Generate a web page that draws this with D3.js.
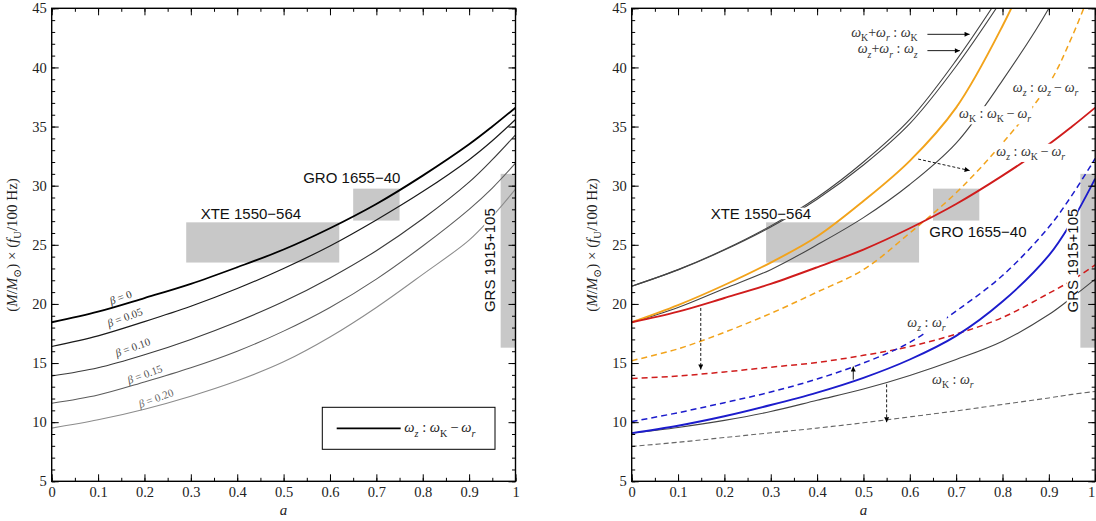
<!DOCTYPE html>
<html>
<head>
<meta charset="utf-8">
<script src="https://cdn.jsdelivr.net/npm/d3@7"></script>
<style>
  body { margin: 0; background: #fff; }
  svg { display: block; }
  text { white-space: pre; }
</style>
</head>
<body>
<svg id="chart" width="1096" height="521"></svg>
<script>
// spin grid shared by all curves (extra point near a = 1 where curves steepen)
const spinA = [0, 0.1, 0.2, 0.3, 0.4, 0.5, 0.6, 0.7, 0.8, 0.9, 0.95, 1.0];

// left panel: omega_z : omega_K - omega_r for several beta
const betaNames = ["β = 0", "β = 0.05", "β = 0.10", "β = 0.15", "β = 0.20"];
const beta000 = [18.45, 19.35, 20.5, 21.7, 23.1, 24.6, 26.4, 28.45, 30.85, 33.5, 35.0, 36.6];
const beta005 = [16.4, 17.3, 18.5, 19.8, 21.3, 23.0, 24.9, 27.1, 29.5, 32.2, 33.8, 35.6];
const beta010 = [13.9, 14.6, 15.7, 17.0, 18.5, 20.2, 22.2, 24.5, 27.2, 30.3, 32.2, 34.3];
const beta015 = [11.6, 12.3, 13.4, 14.6, 16.0, 17.7, 19.7, 22.1, 24.9, 28.0, 29.8, 31.9];
const beta020 = [9.5, 10.2, 11.1, 12.2, 13.5, 15.1, 17.2, 19.7, 22.5, 25.4, 27.4, 29.7];

// right panel resonances (solid = beta 0, dashed = shifted)
const kPlusRonK = [21.5, 22.9, 24.6, 26.6, 29.0, 32.0, 35.6, 40.6, 46.4];
const zPlusRonZ = [21.5, 22.88, 24.55, 26.5, 28.85, 31.75, 35.25, 40.1, 45.8];
const zOnZminusR = [18.45, 19.9, 21.6, 23.5, 25.7, 28.7, 32.1, 36.6, 43.5, 52.0];
const kOnKminusR = [18.45, 19.7, 21.3, 22.9, 25.0, 27.3, 30.1, 33.6, 38.9, 45.0, 49.0];
const zOnKminusR = beta000;
const zOnZminusRShift = [15.2, 16.2, 17.6, 19.2, 21.0, 22.9, 26.0, 29.4, 33.6, 38.6, 42.6, 47.5];
const zOnKminusRShift = [13.7, 13.9, 14.25, 14.65, 15.05, 15.65, 16.4, 17.45, 18.85, 20.9, 22.0, 23.3];
const zOnRShift = [10.05, 10.8, 11.65, 12.55, 13.65, 15.0, 16.75, 19.4, 22.4, 26.5, 29.2, 32.3];
const zOnR = [9.07, 9.7, 10.5, 11.45, 12.5, 13.75, 15.3, 17.3, 20.2, 24.1, 27.0, 30.6];
const kOnR = [9.07, 9.55, 10.15, 10.9, 11.85, 12.8, 13.95, 15.3, 16.85, 19.1, 20.55, 22.1];
const kOnRShift = [7.95, 8.3, 8.7, 9.1, 9.5, 9.95, 10.45, 10.95, 11.5, 12.05, 12.35, 12.6];

// observed sources: spin range and mass x frequency range
const sourceNames = ["XTE 1550−564", "GRO 1655−40", "GRS 1915+105"];
const sourceSpinLo = [0.29, 0.65, 0.968];
const sourceSpinHi = [0.62, 0.75, 1.0];
const sourceMassLo = [23.5, 27.05, 16.3];
const sourceMassHi = [26.9, 29.75, 31.0];

// tick values
const xMajor = d3.range(0, 11).map((i) => i / 10);
const xMinor = d3.range(0, 21).map((i) => i / 20);
const yMajor = d3.range(5, 46, 5);
const yMinor = d3.range(5, 46, 1);

const svg = d3.select("#chart");
const y = d3.scaleLinear().domain([5, 45]).range([481.3, 8.3]);
const xLeft = d3.scaleLinear().domain([0, 1]).range([51.7, 515.5]);
const xRight = d3.scaleLinear().domain([0, 1]).range([631.7, 1095.2]);

const serif = "'Liberation Serif', 'DejaVu Serif', serif";
const sans = "'Liberation Sans', Arial, sans-serif";

const defs = svg.append("defs");
defs
  .append("marker")
  .attr("id", "head")
  .attr("viewBox", "0 0 10 10")
  .attr("refX", 10)
  .attr("refY", 5)
  .attr("markerUnits", "userSpaceOnUse")
  .attr("markerWidth", 7)
  .attr("markerHeight", 5)
  .attr("orient", "auto")
  .append("path")
  .attr("d", "M0,0L10,5L0,10Z")
  .attr("fill", "#000");

function pairs(vals) {
  return vals.map((v, i) => [spinA[i], v]);
}

// small math typesetter: "_X" = subscript, #...# = upright text
function mathText(text, str, size) {
  const runs = [];
  let roman = false;
  let i = 0;
  while (i < str.length) {
    let ch = str[i];
    if (ch === "#") { roman = !roman; i++; continue; }
    let sub = false;
    if (ch === "_") { sub = true; ch = str[i + 1]; i += 2; } else i++;
    const italic = !roman && /[a-zωβM]/.test(ch);
    const last = runs[runs.length - 1];
    if (last && last.sub === sub && last.italic === italic) last.t += ch;
    else runs.push({ t: ch, sub: sub, italic: italic });
  }
  const shift = size * 0.3;
  let prevSub = false;
  runs.forEach((r) => {
    const ts = text.append("tspan").text(r.t)
      .attr("font-style", r.italic ? "italic" : "normal")
      .attr("font-size", r.sub ? size * 0.7 : size);
    if (r.sub && !prevSub) ts.attr("dy", shift);
    if (!r.sub && prevSub) ts.attr("dy", -shift);
    prevSub = r.sub;
  });
  text.attr("font-size", size);
}

function label(g, x, spec) {
  const lg = g.append("g")
    .attr("transform", `translate(${x(spec.a)},${y(spec.v)}) rotate(${spec.rot || 0})`);
  const t = lg.append("text")
    .attr("text-anchor", spec.anchor || "middle")
    .attr("fill", spec.color || "#111")
    .attr("font-family", spec.font || serif)
    .attr("y", spec.dy || 0);
  if (spec.math) mathText(t, spec.text, spec.size);
  else t.attr("font-size", spec.size).text(spec.text);
  if (spec.bg) {
    const b = t.node().getBBox();
    let y0 = b.y, h = b.height;
    if (!spec.math) { y0 = (spec.dy || 0) - spec.size * 0.74; h = spec.size * 0.76; }
    lg.insert("rect", "text")
      .attr("x", b.x - 1).attr("width", b.width + 2)
      .attr("y", y0).attr("height", h)
      .attr("fill", "#fff");
  }
}

function drawPanel(x, id, series, labels, arrows) {
  const g = svg.append("g");
  const [x0, x1] = x.range();
  const [yb, yt] = y.range();

  defs.append("clipPath").attr("id", id)
    .append("rect").attr("x", x0).attr("y", yt).attr("width", x1 - x0).attr("height", yb - yt);

  // source boxes
  g.append("g").selectAll("rect")
    .data(sourceNames.map((n, i) => i))
    .join("rect")
    .attr("x", (i) => x(sourceSpinLo[i]))
    .attr("width", (i) => x(sourceSpinHi[i]) - x(sourceSpinLo[i]))
    .attr("y", (i) => y(sourceMassHi[i]))
    .attr("height", (i) => y(sourceMassLo[i]) - y(sourceMassHi[i]))
    .attr("fill", "#c8c8c8");

  const line = d3.line()
    .x((d) => x(d[0]))
    .y((d) => y(d[1]))
    .curve(d3.curveCatmullRom.alpha(0.5));

  g.append("g").attr("clip-path", `url(#${id})`)
    .selectAll("path")
    .data(series)
    .join("path")
    .attr("d", (s) => line(pairs(s.vals)))
    .attr("fill", "none")
    .attr("stroke", (s) => s.color)
    .attr("stroke-width", (s) => s.width)
    .attr("stroke-dasharray", (s) => s.dash || null);

  labels.forEach((l) => label(g, x, l));

  g.append("g").selectAll("line")
    .data(arrows)
    .join("line")
    .attr("x1", (d) => x(d.a0)).attr("y1", (d) => y(d.v0))
    .attr("x2", (d) => x(d.a1)).attr("y2", (d) => y(d.v1))
    .attr("stroke", "#000")
    .attr("stroke-width", 0.9)
    .attr("stroke-dasharray", (d) => (d.dash ? "3,2" : null))
    .attr("marker-end", "url(#head)");

  // axes with inward ticks on all four sides
  const fmt = (d) => String(d);
  const axes = [
    [d3.axisBottom(x), `translate(0,${yb})`, xMinor, -3.5, false],
    [d3.axisBottom(x), `translate(0,${yb})`, xMajor, -7, true],
    [d3.axisTop(x), `translate(0,${yt})`, xMinor, -3.5, false],
    [d3.axisTop(x), `translate(0,${yt})`, xMajor, -7, false],
    [d3.axisLeft(y), `translate(${x0},0)`, yMinor, -3.5, false],
    [d3.axisLeft(y), `translate(${x0},0)`, yMajor, -7, true],
    [d3.axisRight(y), `translate(${x1},0)`, yMinor, -3.5, false],
    [d3.axisRight(y), `translate(${x1},0)`, yMajor, -7, false],
  ];
  axes.forEach(([axis, tr, vals, size, withLabels]) => {
    const ag = g.append("g").attr("transform", tr)
      .call(axis.tickValues(vals).tickSize(size).tickSizeOuter(0).tickPadding(5)
        .tickFormat(withLabels ? fmt : ""));
    ag.select(".domain").remove();
    ag.selectAll("line").attr("stroke", "#000").attr("stroke-width", 1);
    ag.selectAll("text").attr("font-family", serif).attr("font-size", 14.5).attr("fill", "#222");
  });
  // last x label sits at the window edge: keep it inside
  if (x1 > 1090) {
    g.selectAll(".tick text").filter((d) => d === 1).attr("text-anchor", "end").attr("dx", -0.5);
  }

  g.append("rect")
    .attr("x", x0).attr("y", yt).attr("width", x1 - x0).attr("height", yb - yt)
    .attr("fill", "none").attr("stroke", "#000").attr("stroke-width", 1.4);

  // axis titles
  const yl = g.append("text")
    .attr("transform", `translate(${x0 - 35},245) rotate(-90)`)
    .attr("text-anchor", "middle")
    .attr("fill", "#222")
    .attr("font-family", serif);
  mathText(yl, "(M/M_⊙) × (f_U/100 #Hz#)", 15);

  g.append("text")
    .attr("x", x(0.5)).attr("y", 515)
    .attr("text-anchor", "middle")
    .attr("font-family", serif).attr("font-style", "italic").attr("font-size", 15)
    .attr("fill", "#222")
    .text("a");
  return g;
}

// ---------- left panel ----------
const leftSeries = [
  { vals: beta020, color: "#8c8c8c", width: 1.1 },
  { vals: beta015, color: "#5c5c5c", width: 1.1 },
  { vals: beta010, color: "#3a3a3a", width: 1.1 },
  { vals: beta005, color: "#1a1a1a", width: 1.2 },
  { vals: beta000, color: "#000", width: 1.8 },
];
const betaPos = [[0.149, 20.53], [0.158, 18.84], [0.175, 16.31], [0.201, 14.03], [0.225, 12.0]];
const betaColor = ["#333", "#3c3c3c", "#444", "#555", "#666"];
const leftLabels = betaNames.map((n, i) => ({
  text: n, math: true, size: 11, a: betaPos[i][0], v: betaPos[i][1], rot: -20, dy: 3.5, color: betaColor[i],
})).concat([
  { text: sourceNames[0], font: sans, size: 15, a: 0.4295, v: 27.2, bg: true },
  { text: sourceNames[1], font: sans, size: 15, a: 0.647, v: 30.2, bg: true },
  { text: sourceNames[2], font: sans, size: 15, a: 0.945, v: 23.7, rot: -90, dy: 5.3, bg: true },
]);
const left = drawPanel(xLeft, "clipL", leftSeries, leftLabels, []);

// legend
const lgx = 322.3, lgy = 407.3;
left.append("rect").attr("x", lgx).attr("y", lgy).attr("width", 172.7).attr("height", 42)
  .attr("fill", "#fff").attr("stroke", "#000").attr("stroke-width", 1);
left.append("line").attr("x1", lgx + 14.4).attr("x2", lgx + 78.4)
  .attr("y1", lgy + 21).attr("y2", lgy + 21).attr("stroke", "#000").attr("stroke-width", 1.8);
const legText = left.append("text").attr("x", lgx + 82).attr("y", lgy + 25)
  .attr("font-family", serif).attr("fill", "#222");
mathText(legText, "ω_z : ω_K\u2009−\u2009ω_r", 14.5);

// ---------- right panel ----------
const orange = "#f2a31b", red = "#d01c1c", blue = "#1c1ccc";
const rightSeries = [
  { vals: kOnRShift, color: "#666", width: 1.1, dash: "5,3" },
  { vals: kOnR, color: "#444", width: 1.1 },
  { vals: zOnKminusRShift, color: red, width: 1.5, dash: "6,4" },
  { vals: zOnRShift, color: blue, width: 1.5, dash: "6,4" },
  { vals: zOnR, color: blue, width: 1.9 },
  { vals: zOnZminusRShift, color: orange, width: 1.5, dash: "6,4" },
  { vals: kPlusRonK, color: "#444", width: 1.1 },
  { vals: zPlusRonZ, color: "#444", width: 1.1 },
  { vals: kOnKminusR, color: "#444", width: 1.1 },
  { vals: zOnZminusR, color: orange, width: 1.9 },
  { vals: zOnKminusR, color: red, width: 1.9 },
];
const rightLabels = [
  { text: sourceNames[0], font: sans, size: 15, a: 0.2787, v: 27.2, bg: true },
  { text: sourceNames[1], font: sans, size: 15, a: 0.747, v: 25.7, bg: true },
  { text: sourceNames[2], font: sans, size: 15, a: 0.951, v: 23.67, rot: -90, dy: 5.3, bg: true },
  { text: "ω_K+ω_r : ω_K", math: true, size: 14, a: 0.617, v: 42.55, anchor: "end", color: "#333", bg: true },
  { text: "ω_z+ω_r : ω_z", math: true, size: 14, a: 0.617, v: 41.18, anchor: "end", color: "#333", bg: true },
  { text: "ω_z : ω_z\u2009−\u2009ω_r", math: true, size: 14, a: 0.893, v: 37.96, color: "#333", bg: true },
  { text: "ω_K : ω_K\u2009−\u2009ω_r", math: true, size: 14, a: 0.784, v: 35.71, color: "#333", bg: true },
  { text: "ω_z : ω_K\u2009−\u2009ω_r", math: true, size: 14, a: 0.861, v: 32.53, color: "#333", bg: true },
  { text: "ω_z : ω_r", math: true, size: 14, a: 0.636, v: 18.06, color: "#333", bg: true },
  { text: "ω_K : ω_r", math: true, size: 14, a: 0.693, v: 13.24, color: "#333", bg: true },
];
const rightArrows = [
  { a0: 0.638, v0: 42.8, a1: 0.729, v1: 42.8 },
  { a0: 0.638, v0: 41.42, a1: 0.708, v1: 41.42 },
  { a0: 0.618, v0: 32.25, a1: 0.729, v1: 31.28, dash: true },
  { a0: 0.149, v0: 19.66, a1: 0.149, v1: 14.45, dash: true },
  { a0: 0.478, v0: 13.6, a1: 0.478, v1: 14.7 },
  { a0: 0.55, v0: 13.2, a1: 0.55, v1: 10.0, dash: true },
];
drawPanel(xRight, "clipR", rightSeries, rightLabels, rightArrows);
</script>
</body>
</html>
